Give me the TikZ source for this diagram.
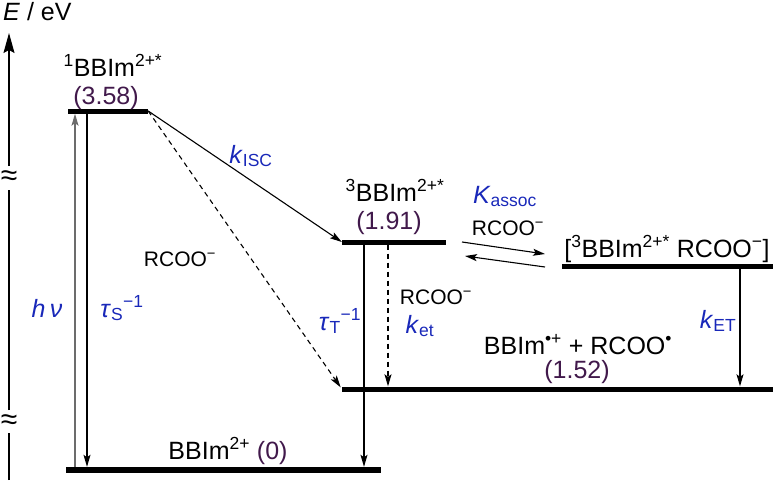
\documentclass[tikz,border=0pt]{standalone}
\usepackage{fontspec}
\setmainfont{Liberation Sans}
\usetikzlibrary{arrows.meta}
\definecolor{kblue}{RGB}{25,40,185}
\definecolor{epurple}{RGB}{65,25,75}
\begin{document}
\begin{tikzpicture}[x=1pt,y=-1pt,
  bar/.style={fill=black, inner sep=0pt, minimum height=5pt},
  lab/.style={inner sep=0pt, anchor=base, font=\fontsize{25}{30}\selectfont},
  small/.style={inner sep=0pt, anchor=base, font=\fontsize{21}{25}\selectfont},
  rate/.style={lab, text=kblue},
  en/.style={lab, text=epurple},
  arr/.style={line width=1.1pt, -{Stealth[length=12pt,width=7pt,inset=2.5pt]}},
  darr/.style={arr, dash pattern=on 5pt off 4pt},
  axisline/.style={line width=1.2pt},
  brk/.style={inner sep=0pt, font=\fontsize{30}{34}\selectfont},
]
\useasboundingbox (0,0) rectangle (776,480);

% energy levels
\node[bar, minimum width=80pt]  (S1) at (108,111) {};
\node[bar, minimum width=104pt] (T1) at (394,242) {};
\node[bar, minimum width=211pt] (CX) at (667.5,266) {};
\node[bar, minimum width=431pt] (CT) at (557.5,389) {};
\node[bar, minimum width=315pt, minimum height=6pt] (G) at (223.5,470) {};

% axis
\node[lab, anchor=base west] (axl) at (3,20) {\textit{E} / eV};
\node[brk] (br1) at (9,178) {≈};
\node[brk] (br2) at (9,422) {≈};
\coordinate (axb) at (9,480);
\coordinate (axt) at (9,33);
\draw[axisline] (axb) -- (9,433);
\draw[axisline] (9,410) -- (9,190);
\draw[axisline, -{Stealth[length=20pt,width=11pt,inset=3pt]}] (9,166) -- (axt);

% level labels
\node[lab] (lS1) at (113,76) {\textsuperscript{1}BBIm\textsuperscript{2+*}};
\node[en]  (eS1) at (106,104) {(3.58)};
\node[lab] (lT1) at (395,201) {\textsuperscript{3}BBIm\textsuperscript{2+*}};
\node[en]  (eT1) at (389,229) {(1.91)};
\node[lab] (lCX) at (667,257) {[\textsuperscript{3}BBIm\textsuperscript{2+*} RCOO\textsuperscript{−}]};
\node[lab] (lCT) at (578,354) {BBIm\textsuperscript{•+} + RCOO\textsuperscript{•}};
\node[en]  (eCT) at (577,378) {(1.52)};
\node[lab] (lG)  at (228,459) {BBIm\textsuperscript{2+} \textcolor{epurple}{(0)}};

% vertical processes from S1
\coordinate (xh) at (75,0);
\coordinate (xs) at (87,0);
\draw[arr, draw=gray!85!black] (G.north -| xh) -- (S1.south -| xh);
\draw[arr] (S1.south -| xs) -- (G.north -| xs);
\node[rate] (hnu) at (47,317) {\textit{h\,ν}};
\node[rate] (tauS) at (122,317) {\textit{τ}\textsubscript{S}\textsuperscript{−1}};

% S1 -> T1 and S1 -> CT
\draw[arr] (S1.east) -- (T1.west);
\node[rate] (kisc) at (251,163) {\textit{k}\textsubscript{ISC}};
\draw[darr, shorten >=2pt] (S1.east) -- (CT.west);
\node[small] (rc1) at (180,266) {RCOO\textsuperscript{−}};

% T1 decays
\coordinate (xt) at (364,0);
\coordinate (xe) at (388,0);
\draw[arr] (T1.south -| xt) -- (G.north -| xt);
\node[rate] (tauT) at (340,330) {\textit{τ}\textsubscript{T}\textsuperscript{−1}};
\draw[darr] (T1.south -| xe) -- (CT.north -| xe);
\node[small] (rc2) at (436,304) {RCOO\textsuperscript{−}};
\node[rate] (ket) at (420,333) {\textit{k}\textsubscript{et}};

% association equilibrium
\coordinate (f1) at (462,242);
\coordinate (f2) at (545,254);
\coordinate (b1) at (545,267);
\coordinate (b2) at (465,256);
\draw[arr] (f1) -- (f2);
\draw[arr] (b1) -- (b2);
\node[rate] (kas) at (505,203) {\textit{K}\textsubscript{assoc}};
\node[small] (rc3) at (508,235) {RCOO\textsuperscript{−}};

% complex -> CT
\coordinate (xk) at (740,0);
\draw[arr] (CX.south -| xk) -- (CT.north -| xk);
\node[rate] (kET) at (718,328) {\textit{k}\textsubscript{ET}};
\end{tikzpicture}
\end{document}
